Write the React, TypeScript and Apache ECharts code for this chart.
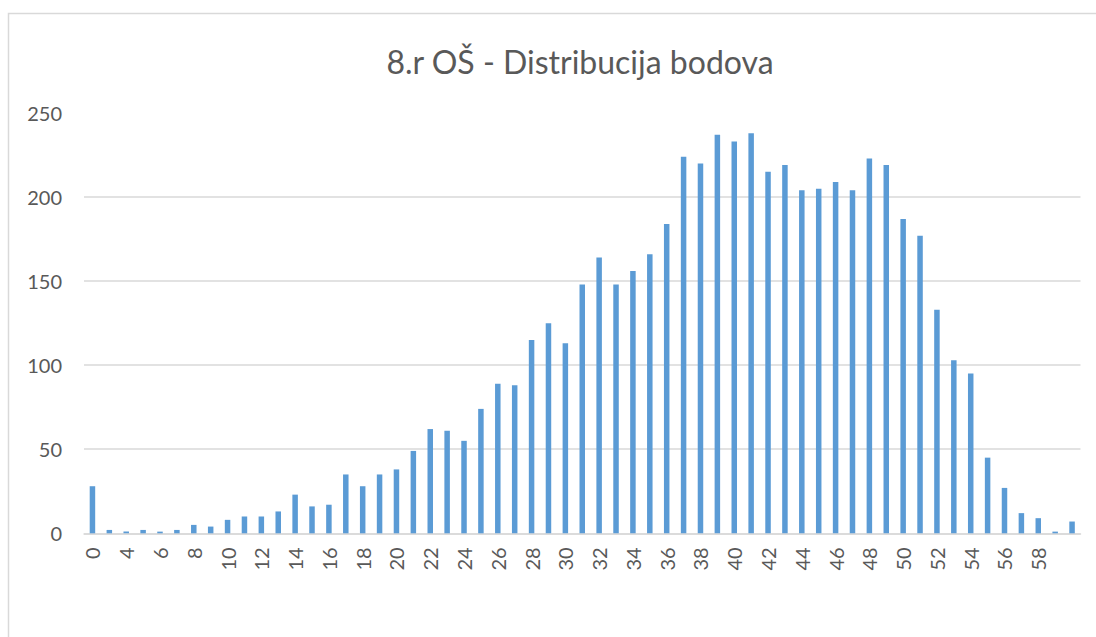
import React, { useEffect, useRef } from "react";
import * as echarts from "echarts";

const titleText = "8.r OŠ - Distribucija bodova";

const categories = [
  "0", "2", "4", "5", "6", "7", "8", "9", "10", "11", "12", "13", "14", "15", "16",
  "17", "18", "19", "20", "21", "22", "23", "24", "25", "26", "27", "28", "29", "30",
  "31", "32", "33", "34", "35", "36", "37", "38", "39", "40", "41", "42", "43", "44",
  "45", "46", "47", "48", "49", "50", "51", "52", "53", "54", "55", "56", "57", "58",
  "59", "60",
];

const counts = [
  28, 2, 1, 2, 1, 2, 5, 4, 8, 10, 10, 13, 23, 16, 17,
  35, 28, 35, 38, 49, 62, 61, 55, 74, 89, 88, 115, 125, 113,
  148, 164, 148, 156, 166, 184, 224, 220, 237, 233, 238, 215, 219, 204, 205,
  209, 204, 223, 219, 187, 177, 133, 103, 95, 45, 27, 12, 9, 1, 7,
];

const yMin = 0;
const yMax = 250;
const yStep = 50;

export default function App() {
  const ref = useRef<HTMLDivElement>(null);

  useEffect(() => {
    if (!ref.current) return;
    const chart = echarts.init(ref.current, undefined, { renderer: "svg" });
    const font = "Lato, 'Open Sans', sans-serif";
    chart.setOption({
      animation: false,
      backgroundColor: "#ffffff",
      title: {
        text: titleText,
        left: 575,
        top: 40,
        textAlign: "center",
        textStyle: {
          fontFamily: font,
          fontSize: 32,
          fontWeight: "normal",
          color: "#595959",
        },
      },
      graphic: [
        {
          type: "polyline",
          shape: { points: [[8.5, 640], [8.5, 13.5], [1100, 13.5]] },
          style: { fill: "none", stroke: "#d9d9d9", lineWidth: 1.5 },
          silent: true,
          z: -1,
        },
      ],
      grid: {
        left: 84,
        right: 15.5,
        top: 113,
        bottom: 103.7,
        containLabel: false,
      },
      xAxis: {
        type: "category",
        data: categories,
        axisTick: { show: false },
        axisLine: { lineStyle: { color: "#d9d9d9", width: 1.5 } },
        axisLabel: {
          interval: 1,
          rotate: 90,
          margin: 14,
          fontFamily: font,
          fontSize: 20,
          color: "#595959",
          formatter: (v: string, i: number) => (i === categories.length - 1 ? "" : v),
        },
      },
      yAxis: {
        type: "value",
        min: yMin,
        max: yMax,
        interval: yStep,
        axisLine: { show: false },
        axisTick: { show: false },
        axisLabel: {
          margin: 22,
          fontFamily: font,
          fontSize: 20,
          color: "#595959",
        },
        splitLine: {
          show: true,
          showMaxLine: false,
          lineStyle: { color: "#d9d9d9", width: 1.5 },
        },
      },
      series: [
        {
          type: "bar",
          data: counts,
          barWidth: 5.5,
          itemStyle: { color: "#5b9bd5" },
        },
      ],
    });
    return () => chart.dispose();
  }, []);

  return (
    <div
      ref={ref}
      style={{ position: "absolute", left: 0, top: 0, width: 1096, height: 637 }}
    />
  );
}
